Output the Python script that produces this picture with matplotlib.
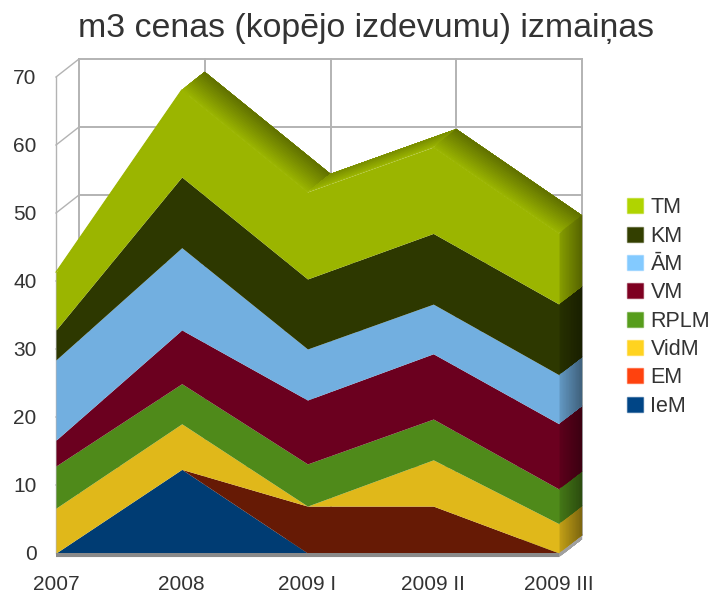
import numpy as np
import matplotlib
matplotlib.use("Agg")
import matplotlib.pyplot as plt
from matplotlib.patches import Patch, Polygon

plt.rcParams["font.family"] = ["Liberation Sans", "DejaVu Sans"]

# chart data, stacked from the bottom up
categories = ["2007", "2008", "2009 I", "2009 II", "2009 III"]
IeM = [0, 12.3, 0, 0, 0]
EM = [0, 0, 6.9, 6.9, 0]
VidM = [6.6, 6.7, 0, 6.8, 4.3]
RPLM = [6.2, 5.9, 6.2, 6.0, 5.1]
VM = [3.8, 7.9, 9.4, 9.6, 9.6]
AM = [11.8, 12.1, 7.5, 7.3, 7.2]
KM = [4.4, 10.4, 10.3, 10.4, 10.4]
TM = [8.5, 12.8, 12.8, 12.7, 10.4]
series = [IeM, EM, VidM, RPLM, VM, AM, KM, TM]
names = ["IeM", "EM", "VidM", "RPLM", "VM", "ĀM", "KM", "TM"]

legend_colors = ["#004586", "#ff420e", "#ffd320", "#579d1c", "#7e0021", "#83caff", "#333f00", "#b0d400"]
front_colors = ["#003c73", "#661a05", "#e0b81a", "#4f8a1a", "#6b001f", "#72afe0", "#2d3800", "#9bb500"]

# depth of the fake 3d box, in data units
DX = 0.183
DY = 2.65
GRID = "#b3b3b3"
TEXT = "#333333"
N_STRIPS = 16

fig = plt.figure(figsize=(7.12, 5.93), dpi=100)
ax = fig.add_axes([56 / 712, 40 / 593, 503 / 712, 476 / 593])
ax.set_xlim(0, 4)
ax.set_ylim(0, 70)
for s in ax.spines.values():
    s.set_visible(False)

x = np.arange(len(categories))
yticks = np.arange(0, 71, 10)
ax.set_xticks(x, categories)
ax.set_yticks(yticks)
ax.tick_params(axis="x", length=0, pad=16, labelsize=15, labelcolor=TEXT)
ax.tick_params(axis="y", length=0, pad=14, labelsize=15, labelcolor=TEXT)

# back wall and left wall
for v in yticks[1:]:
    ax.plot([DX, 4 + DX], [v + DY, v + DY], color=GRID, lw=1.4, clip_on=False, zorder=1)
    ax.plot([0, DX], [v, v + DY], color=GRID, lw=1, clip_on=False, zorder=1)
for i in x:
    ax.plot([i + DX, i + DX], [DY, 70 + DY], color=GRID, lw=1.4, clip_on=False, zorder=1)
ax.plot([0, 0], [0, 70], color=GRID, lw=1, clip_on=False, zorder=1)


def shade(color, k):
    return tuple(np.array(matplotlib.colors.to_rgb(color)) * k)


def strips(p0, p1, color, k0, k1, z):
    # parallelogram going back in depth, each strip overlaps the next so no seams
    ts = np.linspace(0, 1, N_STRIPS + 1)
    for a in ts[:-1]:
        c = shade(color, k0 + (k1 - k0) * (a + 0.5 / N_STRIPS))
        pts = [
            (p0[0] + a * DX, p0[1] + a * DY),
            (p1[0] + a * DX, p1[1] + a * DY),
            (p1[0] + DX, p1[1] + DY),
            (p0[0] + DX, p0[1] + DY),
        ]
        ax.add_patch(Polygon(pts, closed=True, fc=c, ec="none", lw=0, clip_on=False, zorder=z))


# floor
strips((0, -0.6), (4, -0.6), "#b0b0b0", 1, 0.9, 1.5)
ax.fill_between([0, 4], -0.6, 0, color="#8a8a8a", lw=0, clip_on=False, zorder=5)
strips((4, -0.6), (4, 0), "#a0a0a0", 1, 1, 1.5)

# stacked front faces, top face and side face
tops = np.cumsum(np.array(series, dtype=float), axis=0)
bottoms = np.vstack([np.zeros(len(x)), tops[:-1]])

top = tops[-1]
for i in range(len(x) - 1):
    falling = top[i + 1] < top[i]
    strips((x[i], top[i]), (x[i + 1], top[i + 1]), front_colors[-1], 1, 0.62 if falling else 0.78, 2)

for lo, hi, c in zip(bottoms, tops, front_colors):
    if hi[-1] > lo[-1]:
        strips((x[-1], lo[-1]), (x[-1], hi[-1]), c, 0.88, 0.55, 2)

for lo, hi, c in zip(bottoms, tops, front_colors):
    ax.fill_between(x, lo, hi, color=c, lw=0, clip_on=False, zorder=3)

# hides the light seam where the front face meets the top face
ax.plot(x, top, color=front_colors[-1], lw=0.8, clip_on=False, zorder=3)

handles = [Patch(fc=c, ec=matplotlib.colors.to_rgba(c, 0.5), lw=1) for c in legend_colors[::-1]]
fig.legend(
    handles,
    names[::-1],
    loc="upper left",
    bbox_to_anchor=(621 / 712, 1 - 191 / 593),
    frameon=False,
    fontsize=15.5,
    labelcolor=TEXT,
    handlelength=0.7,
    handleheight=0.7,
    handletextpad=0.37,
    labelspacing=0.34,
    borderpad=0.3,
    borderaxespad=0,
)

fig.text(366 / 712, 1 - 28 / 593, "m3 cenas (kopējo izdevumu) izmaiņas", ha="center", va="center", fontsize=24.4, color=TEXT)

fig.savefig("out.png", dpi=100)
